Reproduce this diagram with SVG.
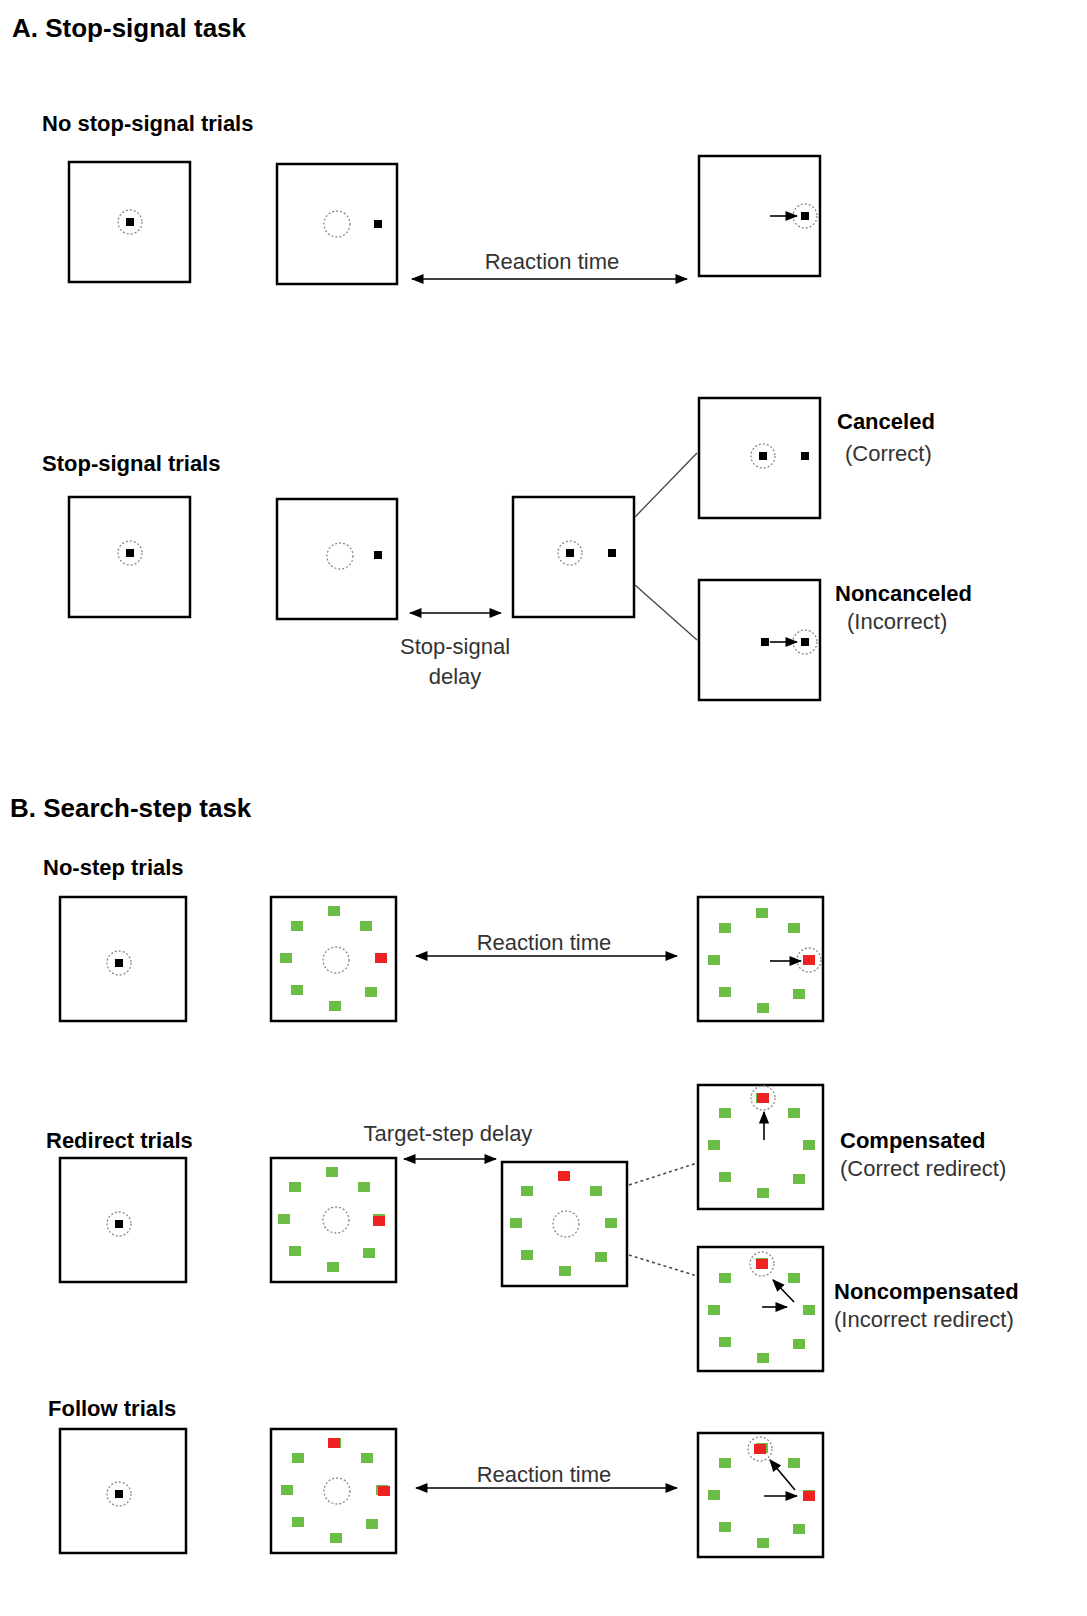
<svg xmlns="http://www.w3.org/2000/svg" xmlns:xlink="http://www.w3.org/1999/xlink" width="1087" height="1616" viewBox="0 0 1087 1616">
<style>
text{font-family:"Liberation Sans",Arial,sans-serif;fill:#000}
.h{font-size:26px;font-weight:bold}
.s{font-size:22px;font-weight:bold}
.l{font-size:22px;fill:#333}
.box{fill:#fff;stroke:#000;stroke-width:2.5}
.dc{fill:none;stroke:#888;stroke-width:1.3;stroke-dasharray:2 2}
.con{stroke:#000;stroke-width:1.6;fill:none}
.dl{stroke:#444;stroke-width:1.3;fill:none}
.dot{stroke:#444;stroke-width:1.5;stroke-dasharray:3 3;fill:none}
</style>
<defs>
<marker id="a" viewBox="0 0 10 10" refX="9" refY="5" markerWidth="8" markerHeight="8" orient="auto-start-reverse"><path d="M0,1 L10,5 L0,9 z" fill="#000"/></marker>
<rect id="fx" x="-4" y="-4" width="8" height="8" fill="#000"/>
<circle id="c" r="12" class="dc"/>
<circle id="C" r="13" class="dc"/>
<rect id="g" x="-6" y="-5" width="12" height="10" fill="#6cbd45"/>
<rect id="r" x="-6" y="-5" width="12" height="10" fill="#ee2222"/>
<g id="arr">
<use href="#g" x="0" y="-48"/><use href="#g" x="32" y="-33"/><use href="#g" x="-37" y="-33"/>
<use href="#g" x="-48" y="-1"/><use href="#g" x="47" y="-1"/><use href="#g" x="-37" y="31"/>
<use href="#g" x="37" y="33"/><use href="#g" x="1" y="47"/>
</g>
</defs>
<text class="h" x="12" y="37">A. Stop-signal task</text>
<text class="s" x="42" y="131">No stop-signal trials</text>
<text class="s" x="42" y="471">Stop-signal trials</text>
<text class="h" x="10" y="817">B. Search-step task</text>
<text class="s" x="43" y="875">No-step trials</text>
<text class="s" x="46" y="1148">Redirect trials</text>
<text class="s" x="48" y="1416">Follow trials</text>

<g id="A1"><rect class="box" x="69" y="162" width="121" height="120"/><use href="#c" x="130" y="222"/><use href="#fx" x="130" y="222"/></g>
<g id="A2"><rect class="box" x="277" y="164" width="120" height="120"/><use href="#C" x="337" y="224"/><use href="#fx" x="378" y="224"/></g>
<g id="A3"><rect class="box" x="699" y="156" width="121" height="120"/><use href="#c" x="805" y="216"/><use href="#fx" x="805" y="216"/><line class="con" x1="770" y1="216" x2="797" y2="216" marker-end="url(#a)"/></g>
<g id="A4"><rect class="box" x="69" y="497" width="121" height="120"/><use href="#c" x="130" y="553"/><use href="#fx" x="130" y="553"/></g>
<g id="A5"><rect class="box" x="277" y="499" width="120" height="120"/><use href="#C" x="340" y="556"/><use href="#fx" x="378" y="555"/></g>
<g id="A6"><rect class="box" x="513" y="497" width="121" height="120"/><use href="#c" x="570" y="553"/><use href="#fx" x="570" y="553"/><use href="#fx" x="612" y="553"/></g>
<g id="A7"><rect class="box" x="699" y="398" width="121" height="120"/><use href="#c" x="763" y="456"/><use href="#fx" x="763" y="456"/><use href="#fx" x="805" y="456"/></g>
<g id="A8"><rect class="box" x="699" y="580" width="121" height="120"/><use href="#c" x="805" y="642"/><use href="#fx" x="805" y="642"/><use href="#fx" x="765" y="642"/><line class="con" x1="770" y1="642" x2="797" y2="642" marker-end="url(#a)"/></g>
<text class="s" x="837" y="429">Canceled</text><text class="l" x="845" y="461">(Correct)</text>
<text class="s" x="835" y="601">Noncanceled</text><text class="l" x="847" y="629">(Incorrect)</text>

<g id="B1"><rect class="box" x="60" y="897" width="126" height="124"/><use href="#c" x="119" y="963"/><use href="#fx" x="119" y="963"/></g>
<g id="B2"><rect class="box" x="271" y="897" width="125" height="124"/><use href="#arr" x="334" y="959"/><use href="#C" x="336" y="960"/><use href="#r" x="381" y="958"/></g>
<g id="B3"><rect class="box" x="698" y="897" width="125" height="124"/><use href="#arr" x="762" y="961"/><use href="#r" x="809" y="960"/><use href="#c" x="809" y="960"/><line class="con" x1="770" y1="961" x2="801" y2="961" marker-end="url(#a)"/></g>
<g id="B4"><rect class="box" x="60" y="1158" width="126" height="124"/><use href="#c" x="119" y="1224"/><use href="#fx" x="119" y="1224"/></g>
<g id="B5"><rect class="box" x="271" y="1158" width="125" height="124"/><use href="#arr" x="332" y="1220"/><use href="#C" x="336" y="1220"/><use href="#r" x="379" y="1221"/></g>
<g id="B6"><rect class="box" x="502" y="1162" width="125" height="124"/><use href="#arr" x="564" y="1224"/><use href="#C" x="566" y="1224"/><use href="#r" x="564" y="1176"/></g>
<g id="B7"><rect class="box" x="698" y="1085" width="125" height="124"/><use href="#arr" x="762" y="1146"/><use href="#r" x="763" y="1098"/><use href="#c" x="763" y="1098"/><line class="con" x1="764" y1="1140" x2="764" y2="1112" marker-end="url(#a)"/></g>
<g id="B8"><rect class="box" x="698" y="1247" width="125" height="124"/><use href="#arr" x="762" y="1311"/><use href="#r" x="762" y="1264"/><use href="#c" x="762" y="1264"/><line class="con" x1="762" y1="1307" x2="787" y2="1307" marker-end="url(#a)"/><line class="con" x1="794" y1="1302" x2="773" y2="1280" marker-end="url(#a)"/></g>
<g id="B9"><rect class="box" x="60" y="1429" width="126" height="124"/><use href="#c" x="119" y="1494"/><use href="#fx" x="119" y="1494"/></g>
<g id="B10"><rect class="box" x="271" y="1429" width="125" height="124"/><use href="#arr" x="335" y="1491"/><use href="#C" x="337" y="1491"/><use href="#r" x="334" y="1443"/><use href="#r" x="384" y="1491"/></g>
<g id="B11"><rect class="box" x="698" y="1433" width="125" height="124"/><use href="#arr" x="762" y="1496"/><use href="#r" x="760" y="1449"/><use href="#c" x="760" y="1449"/><use href="#r" x="809" y="1496"/><line class="con" x1="764" y1="1496" x2="797" y2="1496" marker-end="url(#a)"/><line class="con" x1="795" y1="1490" x2="770" y2="1460" marker-end="url(#a)"/></g>
<text class="s" x="840" y="1148">Compensated</text><text class="l" x="840" y="1176">(Correct redirect)</text>
<text class="s" x="834" y="1299">Noncompensated</text><text class="l" x="834" y="1327">(Incorrect redirect)</text>

<g id="connectors">
<line class="con" x1="412" y1="279" x2="687" y2="279" marker-start="url(#a)" marker-end="url(#a)"/>
<text class="l" x="552" y="269" text-anchor="middle">Reaction time</text>
<line class="con" x1="410" y1="613" x2="501" y2="613" marker-start="url(#a)" marker-end="url(#a)"/>
<text class="l" x="455" y="654" text-anchor="middle">Stop-signal</text>
<text class="l" x="455" y="684" text-anchor="middle">delay</text>
<line class="dl" x1="635" y1="517" x2="697" y2="453"/>
<line class="dl" x1="635" y1="585" x2="697" y2="640"/>
<line class="con" x1="416" y1="956" x2="677" y2="956" marker-start="url(#a)" marker-end="url(#a)"/>
<text class="l" x="544" y="950" text-anchor="middle">Reaction time</text>
<line class="con" x1="404" y1="1159" x2="496" y2="1159" marker-start="url(#a)" marker-end="url(#a)"/>
<text class="l" x="448" y="1141" text-anchor="middle">Target-step delay</text>
<line class="dot" x1="629" y1="1185" x2="697" y2="1163"/>
<line class="dot" x1="629" y1="1255" x2="697" y2="1276"/>
<line class="con" x1="416" y1="1488" x2="677" y2="1488" marker-start="url(#a)" marker-end="url(#a)"/>
<text class="l" x="544" y="1482" text-anchor="middle">Reaction time</text>
</g>
</svg>
